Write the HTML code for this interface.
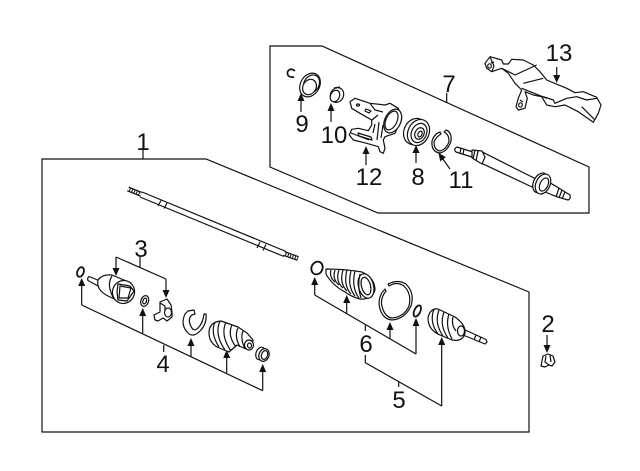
<!DOCTYPE html>
<html><head><meta charset="utf-8"><style>
html,body{margin:0;padding:0;background:#fff}
svg{display:block}
text{font-family:"Liberation Sans",sans-serif;font-size:24px;fill:#111;text-anchor:middle}
.p *{fill:#fff;stroke:#111;stroke-width:1.2;stroke-linejoin:round}
.p .n{fill:none}
.l{fill:none;stroke:#111;stroke-width:1.2}
</style></head><body>
<svg width="640" height="471" viewBox="0 0 640 471" xmlns="http://www.w3.org/2000/svg">
<defs>
<marker id="a" markerWidth="9" markerHeight="8" refX="1" refY="3.5" orient="auto" markerUnits="userSpaceOnUse"><path d="M0,0L8,3.500L0,7Z" fill="#111"/></marker>
</defs>
<rect width="640" height="471" fill="#fff"/>
<!-- frames -->
<path class="l" d="M42,159H206L529,292V432H42Z"/>
<path class="l" d="M270,46H322L589,167V213H378L270,167Z"/>
<!-- leaders -->
<path class="l" d="M143,150V159M140,257V268M163.7,345V352M365.3,325V331M398.7,382V387M446.7,93V103M116,257L166,279M81.7,305L262.7,390.7M314.7,295L416,354M365.3,355V362.7L441.7,406"/>
<!-- arrows -->
<g class="l">
<path d="M116,257V269" marker-end="url(#a)"/>
<path d="M166,279V291" marker-end="url(#a)"/>
<path d="M81.7,305V285" marker-end="url(#a)"/>
<path d="M142.7,333V315" marker-end="url(#a)"/>
<path d="M191,357V345" marker-end="url(#a)"/>
<path d="M226.7,374V357" marker-end="url(#a)"/>
<path d="M262.7,390.7V371" marker-end="url(#a)"/>
<path d="M314.7,295V284" marker-end="url(#a)"/>
<path d="M346.7,314V302" marker-end="url(#a)"/>
<path d="M390,339V329" marker-end="url(#a)"/>
<path d="M416,354V325" marker-end="url(#a)"/>
<path d="M441.7,406V344" marker-end="url(#a)"/>
<path d="M547,335V346" marker-end="url(#a)"/>
<path d="M301,112V100" marker-end="url(#a)"/>
<path d="M331,122V110" marker-end="url(#a)"/>
<path d="M366,165V153" marker-end="url(#a)"/>
<path d="M416,163V152" marker-end="url(#a)"/>
<path d="M450,169L442.500,158.500" marker-end="url(#a)"/>
<path d="M556.7,67V76" marker-end="url(#a)"/>
</g>
<!-- shaft -->
<g fill="none">
<path d="M128,189L143,195" stroke="#111" stroke-width="5"/>
<path d="M128,189L143,195" stroke="#fff" stroke-width="2.600" stroke-dasharray="1.500 1"/>
<path d="M141,194.500L285,254" stroke="#111" stroke-width="6.600"/>
<path d="M141,194.500L285,254" stroke="#fff" stroke-width="4.200"/>
<path d="M284,253.500L298,258.500" stroke="#111" stroke-width="5"/>
<path d="M284,253.500L298,258.500" stroke="#fff" stroke-width="2.600" stroke-dasharray="1.500 1"/>
<path class="l" d="M161,200.500L158,206M167,203L164,208.500M260,242L257,248M266,244.500L263,250.500"/>
</g>
<!-- left CV joint -->
<g class="p">
<ellipse cx="80.500" cy="272" rx="3.200" ry="5" transform="rotate(20 80.500 272)" style="stroke-width:1.800;fill:none"/>
<path d="M89,276.500L100,281L98,286L88,280.500Q87,278 89,276.500Z"/>
<path d="M98,280Q102,274 112,275L131,283L123,303L108,296Q96,290 98,280Z"/>
<ellipse cx="123.500" cy="292" rx="11" ry="11.500" transform="rotate(20 123.500 292)"/>
<path d="M118,284L130,286L134,291L127,301L118,300L117,292Z"/>
<path d="M120,286L131,288L128,298L119,298Z" class="n"/>
<path class="n" d="M112,276Q106,285 114,299"/>
<ellipse cx="144.700" cy="301" rx="3.800" ry="5.500" transform="rotate(20 144.700 301)"/>
<ellipse cx="144.700" cy="301" rx="1.800" ry="3" transform="rotate(20 144.700 301)"/>
<!-- spider -->
<path d="M160,302L167,299L171,305L172,312L172,317L167,321L163,318L158,321L155,320L154,315L160,312Z"/>
<ellipse cx="168" cy="312.500" rx="3.500" ry="4.500"/>
<path class="n" d="M160,303L165,306L165,311"/>
<!-- clip -->
<path d="M188,311L194,310L195,314L192,315Q188,318 190,324Q193,333 198,328Q203,323 204,314L206,314Q207,324 200,331Q193,338 188,333Q180,325 185,314Z"/>
<!-- left boot -->
<path d="M209,333Q209,322 221,321L238,327L247,333L253,340Q252,348 246,349L237,345L229,352L217,347Q209,342 209,333Z"/>
<path class="n" d="M215,322Q210,333 219,347M220,321Q214,334 225,350M226,322Q220,335 231,351M232,325Q227,335 236,347M238,328Q234,336 240,347M243,331Q240,338 245,349"/>
<ellipse cx="249" cy="345" rx="4.500" ry="5"/>
<ellipse cx="249.500" cy="345.500" rx="2" ry="2.500"/>
<!-- clamp -->
<ellipse cx="260.500" cy="353.500" rx="4.500" ry="6.500" transform="rotate(20 260.500 353.500)"/>
<ellipse cx="264" cy="355" rx="5" ry="6.500" transform="rotate(20 264 355)"/>
<ellipse cx="264.500" cy="355" rx="3" ry="4.500" transform="rotate(20 264.500 355)"/>
<!-- right ring + boot -->
<ellipse cx="317" cy="268" rx="5.500" ry="6.500" transform="rotate(25 317 268)" style="stroke-width:1.800;fill:none"/>
<path d="M326,269Q345,269 362,272Q375,278 375,290Q372,300 360,299Q352,297 345,292Q332,285 326,274Z"/>
<path class="n" d="M331,270Q329,277 335,282M335,270Q332,279 339,285M339,270Q335,281 343,288M343,270Q339,283 347,291M347,270Q343,285 351,294M351,271Q347,286 355,296M355,271Q351,287 359,298"/>
<ellipse cx="366" cy="286" rx="7.500" ry="12.500" transform="rotate(-15 366 286)"/>
<ellipse cx="366" cy="286" rx="4.500" ry="9" transform="rotate(-15 366 286)"/>
<path class="n" d="M360,274Q357,286 361,298"/>
<!-- big ring -->
<path d="M388,284Q398,279 406,284Q415,293 411,306Q405,319 392,320Q381,319 379,304Q379,295 385,289L386,291Q381,297 381.500,304Q384,317 392,318Q404,317 409,306Q412,294 404,286Q397,281 389,286Z"/>
<!-- small ring -->
<ellipse cx="417.300" cy="311" rx="3" ry="6" transform="rotate(25 417.300 311)" style="stroke-width:1.800;fill:none"/>
<!-- right CV -->
<path d="M463,329L486,339.500L487,342L485,344L463,335Z"/>
<path d="M428,318Q430,308 438,309L455,317Q466,325 465,333Q463,342 452,340L440,335Q428,330 428,318Z"/>
<path class="n" d="M434,309Q429,322 438,334M439,310Q434,323 443,336M444,312Q439,325 448,338M449,314Q445,326 452,339M453,317Q451,325 456,331"/>
<ellipse cx="461" cy="331" rx="3.500" ry="5"/>
<path class="n" d="M476,335L474,340M481,337L479,342"/>
<!-- nut 2 -->
<path d="M543,356L548,354L553,356L555,362L552,366L549,365L545,367L541,366L542,361Z"/>
<path class="n" d="M546,356L545,362L549,365M550,355L551,362"/>
<!-- upper group -->
<path class="n" d="M295,71Q290,67 287.500,72Q287,78 294,77" style="stroke-width:1.700"/>
<ellipse cx="310" cy="85" rx="9.500" ry="12.500" transform="rotate(30 310 85)"/>
<ellipse cx="311.500" cy="84" rx="7.500" ry="9.500" transform="rotate(30 311.500 84)"/>
<ellipse cx="309.500" cy="87" rx="6.500" ry="8" transform="rotate(30 309.500 87)"/>
<ellipse cx="337" cy="95" rx="6.500" ry="7.500" transform="rotate(25 337 95)"/>
<ellipse cx="335" cy="96" rx="4.500" ry="6" transform="rotate(25 335 96)"/>
<path class="n" d="M334,88L340,87"/>
<!-- knuckle -->
<path d="M350,101.700L355,98.300L370,103.300L385,105L390,103.300L398.300,108.300L401.700,118.300L395,133.300L385,136.700L383.300,140L385,148.300L383.300,153.300L380,151.700L378.300,146.700L366.700,143.300L353.300,140L349.300,135L351.700,129.300L358.300,128.300L368.300,130.700L371.700,125L371.700,120L360,113.300L351.700,108.300Z"/>
<ellipse cx="392.700" cy="121" rx="8" ry="12.500" transform="rotate(25 392.700 121)"/>
<ellipse cx="391.500" cy="120.500" rx="5.500" ry="10" transform="rotate(25 391.500 120.500)"/>
<path class="n" d="M370,103.300L375,110L383,112M372,120L378,115M375,124L373,133M379,122L377,140M383,125L381,138M351,133L369,140"/>
<path d="M358,133L371,137L372,140L359,136Z"/>
<path d="M366,109L371,111L369,113L365,111Z"/>
<ellipse cx="358" cy="105" rx="1.500" ry="1"/>
<!-- bearing -->
<ellipse cx="415" cy="131.500" rx="11" ry="13.500" transform="rotate(25 415 131.500)"/>
<ellipse cx="418.500" cy="132.500" rx="10.500" ry="13.500" transform="rotate(25 418.500 132.500)"/>
<ellipse cx="419" cy="133" rx="7.500" ry="10" transform="rotate(25 419 133)"/>
<ellipse cx="419.500" cy="133.500" rx="4.500" ry="6" transform="rotate(25 419.500 133.500)"/>
<ellipse cx="420" cy="134" rx="2" ry="3" transform="rotate(25 420 134)"/>
<!-- ring 11 -->
<path d="M446,130Q452,132 451,141Q448,151 440,153Q431,152 432,141Q434,134 440,132L441,134Q436,137 434,142Q434,150 440,151Q447,149 449,141Q449,134 444,132Z"/>
<!-- axle -->
<path d="M457,147L473,152L472,157L456,152Q453,149 457,147Z"/>
<path class="n" d="M461,148L460,153M464,149L463,154"/>
<path d="M481.700,151.700L536,179L532,187L481.700,163.300Z"/>
<path d="M472,150L482,151L485,157L482,164L472,158Z"/>
<path class="n" d="M475,150L473,159M478,151L476,161"/>
<path d="M545,180L556.700,186.700L570,195Q571,199 568,200L556.700,196.700L545,192Z"/>
<path class="n" d="M559,188L556,197M562,190L559,198M565,192L562,199"/>
<ellipse cx="540.500" cy="183" rx="7" ry="10.500" transform="rotate(25 540.500 183)"/>
<ellipse cx="543" cy="184" rx="7" ry="10.500" transform="rotate(25 543 184)"/>
<ellipse cx="544" cy="184.500" rx="4" ry="7" transform="rotate(25 544 184.500)"/>
<!-- 13 cover -->
<path d="M485,63.300L490,56.700L501.700,60L503.300,64L508.300,64L511.700,59.300L523.300,60L533.300,65L540,71.700L546.700,80L566.700,88.300L575,92.700L583.300,91.700L596.700,97.300L601,105L598.300,113.300L593.300,122.300L578.300,111.700L565,105L555,106.700L546.700,105L541.700,96.700L533.300,95L525,91.700L527.300,98.300L525,108.300L518.300,110L516,106.700L518.300,98.300L521.700,90L515,83.300L508.300,73.300L501.700,68.300L491.700,71.700L486.700,68.300Z"/>
<path class="n" d="M501.700,68.300L515,75L536.700,65M523.300,83.300L543.300,78.300M521.700,88.300L546.700,98.300M543.300,96.700L553.300,100L555,103.300L566.700,98.300L576.700,96.700L586.700,100L596.700,98.300M581.700,106.700L591.700,116.700L595,120M490,57L494,66L492,71M491,63L494,62M520,100L523,102"/>
<ellipse cx="489.500" cy="66" rx="1.800" ry="2.200"/>
<ellipse cx="520.500" cy="105" rx="1.800" ry="2.200"/>
</g>
<!-- labels -->
<text x="143" y="150">1</text>
<text x="548" y="332">2</text>
<text x="141" y="257">3</text>
<text x="163" y="372">4</text>
<text x="399" y="408">5</text>
<text x="366" y="352">6</text>
<text x="449" y="92">7</text>
<text x="418" y="185">8</text>
<text x="302" y="132">9</text>
<text x="334" y="143">10</text>
<text x="461" y="188">11</text>
<text x="369" y="185">12</text>
<text x="559" y="61">13</text>
</svg>
</body></html>
